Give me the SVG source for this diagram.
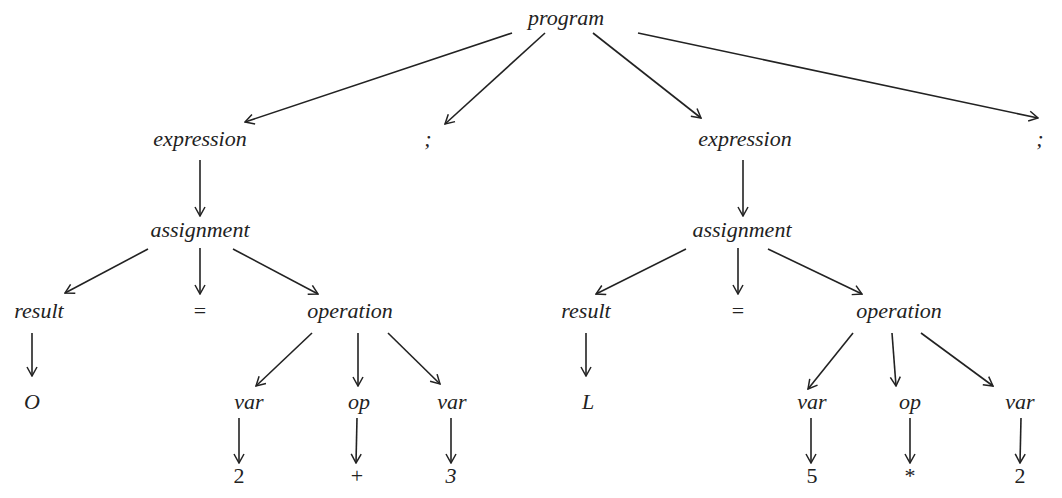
<svg xmlns="http://www.w3.org/2000/svg" width="1062" height="498" viewBox="0 0 1062 498">
<style>
text{font-family:"Liberation Serif","DejaVu Serif",serif;font-style:italic;font-size:22px;fill:#222;text-anchor:middle}
.n{font-style:normal}
.c line{stroke:#222;stroke-width:1.6;marker-end:url(#a)}
</style>
<defs>
<marker id="a" viewBox="0 0 12 12" refX="11" refY="6" markerWidth="12" markerHeight="12" markerUnits="userSpaceOnUse" orient="auto">
<path d="M2,1 L11,6 L2,11" fill="none" stroke="#222" stroke-width="1.5"/>
</marker>
</defs>
<rect width="1062" height="498" fill="#fff"/>
<g class="c" id="connectors">
<line x1="512" y1="33" x2="245" y2="122"/>
<line x1="545" y1="33" x2="445" y2="124"/>
<line x1="593" y1="33" x2="701" y2="118"/>
<line x1="638" y1="33" x2="1038" y2="118"/>
<line x1="200" y1="160" x2="200" y2="216"/>
<line x1="743" y1="160" x2="743" y2="216"/>
<line x1="148" y1="249" x2="65" y2="293"/>
<line x1="200" y1="248" x2="200" y2="294"/>
<line x1="233" y1="249" x2="318" y2="294"/>
<line x1="686" y1="249" x2="596" y2="294"/>
<line x1="738" y1="248" x2="738" y2="294"/>
<line x1="768" y1="249" x2="862" y2="294"/>
<line x1="32" y1="333" x2="32" y2="376"/>
<line x1="312" y1="333" x2="256" y2="386"/>
<line x1="358" y1="333" x2="358" y2="386"/>
<line x1="388" y1="333" x2="440" y2="384"/>
<line x1="586" y1="333" x2="586" y2="376"/>
<line x1="853" y1="333" x2="808" y2="389"/>
<line x1="892" y1="333" x2="896" y2="386"/>
<line x1="921" y1="333" x2="993" y2="386"/>
<line x1="239" y1="418" x2="239" y2="463"/>
<line x1="357" y1="418" x2="356" y2="463"/>
<line x1="451" y1="418" x2="451" y2="463"/>
<line x1="811" y1="418" x2="811" y2="463"/>
<line x1="910" y1="418" x2="910" y2="463"/>
<line x1="1021" y1="418" x2="1020" y2="463"/>
</g>
<g id="program"><text x="566" y="25">program</text></g>
<g id="expr1"><text x="200" y="146">expression</text></g>
<g id="semi1"><text x="428" y="146">;</text></g>
<g id="expr2"><text x="745" y="146">expression</text></g>
<g id="semi2"><text x="1040" y="146">;</text></g>
<g id="assign1"><text x="200" y="237">assignment</text></g>
<g id="assign2"><text x="742" y="237">assignment</text></g>
<g id="result1"><text x="39" y="318">result</text></g>
<g id="eq1"><text class="n" x="200" y="318">=</text></g>
<g id="oper1"><text x="350" y="318">operation</text></g>
<g id="result2"><text x="586" y="318">result</text></g>
<g id="eq2"><text class="n" x="738" y="318">=</text></g>
<g id="oper2"><text x="899" y="318">operation</text></g>
<g id="o"><text x="32" y="409">O</text></g>
<g id="var1"><text x="249" y="409">var</text></g>
<g id="op1"><text x="359" y="409">op</text></g>
<g id="var2"><text x="452" y="409">var</text></g>
<g id="l"><text x="588" y="409">L</text></g>
<g id="var3"><text x="812" y="409">var</text></g>
<g id="op2"><text x="910" y="409">op</text></g>
<g id="var4"><text x="1020" y="409">var</text></g>
<g id="d2a"><text class="n" x="239" y="483">2</text></g>
<g id="plus"><text class="n" x="357" y="483">+</text></g>
<g id="d3"><text x="451" y="483">3</text></g>
<g id="d5"><text class="n" x="812" y="483">5</text></g>
<g id="star"><text class="n" x="910" y="483">*</text></g>
<g id="d2b"><text class="n" x="1020" y="483">2</text></g>
</svg>
